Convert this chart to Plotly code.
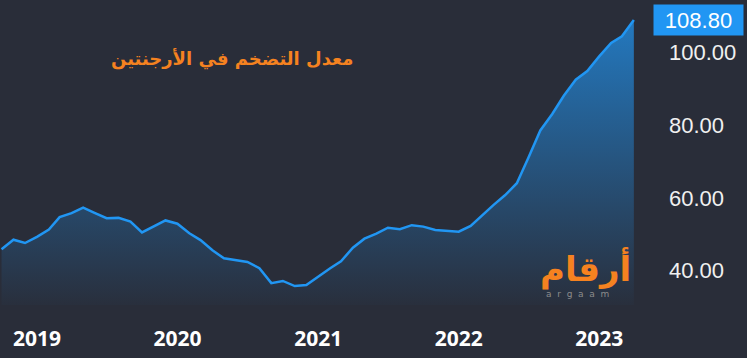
import plotly.graph_objects as go

months = [
    "2018-10-01", "2018-11-01", "2018-12-01",
    "2019-01-01", "2019-02-01", "2019-03-01", "2019-04-01", "2019-05-01", "2019-06-01",
    "2019-07-01", "2019-08-01", "2019-09-01", "2019-10-01", "2019-11-01", "2019-12-01",
    "2020-01-01", "2020-02-01", "2020-03-01", "2020-04-01", "2020-05-01", "2020-06-01",
    "2020-07-01", "2020-08-01", "2020-09-01", "2020-10-01", "2020-11-01", "2020-12-01",
    "2021-01-01", "2021-02-01", "2021-03-01", "2021-04-01", "2021-05-01", "2021-06-01",
    "2021-07-01", "2021-08-01", "2021-09-01", "2021-10-01", "2021-11-01", "2021-12-01",
    "2022-01-01", "2022-02-01", "2022-03-01", "2022-04-01", "2022-05-01", "2022-06-01",
    "2022-07-01", "2022-08-01", "2022-09-01", "2022-10-01", "2022-11-01", "2022-12-01",
    "2023-01-01", "2023-02-01", "2023-03-01", "2023-04-01",
]
inflation = [
    45.9, 48.5, 47.6,
    49.3, 51.3, 54.7, 55.8, 57.3, 55.8, 54.4, 54.5, 53.5, 50.5, 52.1, 53.8,
    52.9, 50.3, 48.4, 45.6, 43.4, 42.8, 42.4, 40.7, 36.6, 37.2, 35.8, 36.1,
    38.5, 40.7, 42.6, 46.3, 48.8, 50.2, 51.8, 51.4, 52.5, 52.1, 51.2, 50.9,
    50.7, 52.3, 55.1, 58.0, 60.7, 64.0, 71.0, 78.5, 83.0, 88.0, 92.4, 94.8,
    98.8, 102.5, 104.3, 108.8,
]
year_ticks = ["2019-01-01", "2020-01-01", "2021-01-01", "2022-01-01", "2023-01-01"]
year_labels = ["2019", "2020", "2021", "2022", "2023"]
y_ticks = [40, 60, 80, 100]
title_text = "معدل التضخم في الأرجنتين"
last_label = "108.80"

BG = "#292d39"
BLUE = "#2196f3"
ORANGE = "#f58220"

fig = go.Figure()
fig.add_trace(go.Scatter(
    x=months, y=inflation, mode="lines",
    line=dict(color=BLUE, width=2.5),
    fill="tozeroy",
    fillgradient=dict(type="vertical", start=30.6, stop=108.8,
                      colorscale=[[0, "rgba(33,150,243,0.02)"], [1, "rgba(33,150,243,0.72)"]]),
    hoverinfo="skip", showlegend=False,
))

fig.update_layout(
    width=747, height=358,
    margin=dict(l=0, r=107, t=0, b=53),
    paper_bgcolor=BG, plot_bgcolor=BG,
    xaxis=dict(
        range=["2018-09-27", "2023-04-17"],
        tickvals=year_ticks, ticktext=year_labels,
        tickfont=dict(family="Open Sans", size=21, color="#ffffff", weight="bold"),
        showgrid=False, zeroline=False, showline=False, ticks="",
        ticklabelstandoff=19,
    ),
    yaxis=dict(
        side="right", range=[30.6, 114.27],
        tickvals=y_ticks, tickformat=".2f",
        tickfont=dict(family="Liberation Sans", size=22, color="#f0f0f0"),
        showgrid=False, zeroline=False, showline=False, ticks="",
        ticklabelstandoff=28,
    ),
    annotations=[
        dict(text=title_text, xref="paper", yref="paper", x=232 / 640, y=1 - 59 / 305,
             xanchor="center", yanchor="middle", showarrow=False,
             font=dict(family="DejaVu Sans", size=18, color=ORANGE, weight="bold")),
        dict(text=last_label, xref="paper", yref="y", x=1, y=108.8, xshift=13,
             xanchor="left", yanchor="middle", showarrow=False,
             bgcolor=BLUE, borderpad=3, width=83, height=24, align="center",
             font=dict(family="Liberation Sans", size=22, color="#ffffff")),
        dict(text="أرقام", xref="paper", yref="paper", x=633 / 640, y=1 - 268 / 305,
             xanchor="right", yanchor="middle", showarrow=False,
             font=dict(family="DejaVu Sans", size=34, color=ORANGE, weight="bold")),
        dict(text="a  r  g  a  a  m", xref="paper", yref="paper", x=577 / 640, y=1 - 294 / 305,
             xanchor="center", yanchor="middle", showarrow=False,
             font=dict(family="DejaVu Sans", size=9, color="#8c8c8c")),
    ],
)

fig.write_html("out.html", config={"displayModeBar": False},
               post_script="document.body.style.margin='0';document.body.style.padding='0';")
